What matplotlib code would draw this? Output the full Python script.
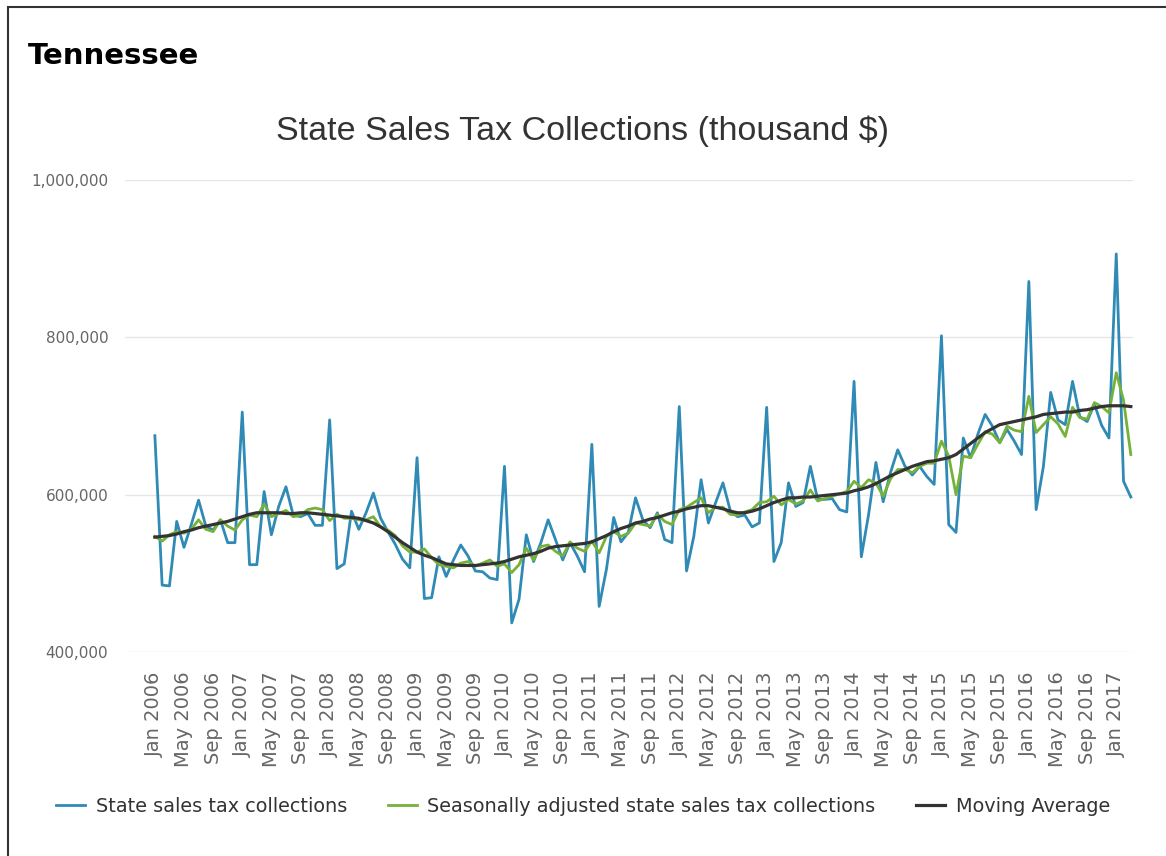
import matplotlib.pyplot as plt
import numpy as np
from matplotlib.patches import Rectangle
from matplotlib.ticker import FuncFormatter

plt.rcParams["font.family"] = "DejaVu Sans"

# ------------------------------------------------------------
# DATA (thousand $), monthly Jan 2006 .. Mar 2017
# ------------------------------------------------------------

month_names = ["Jan", "Feb", "Mar", "Apr", "May", "Jun",
               "Jul", "Aug", "Sep", "Oct", "Nov", "Dec"]
years = list(range(2006, 2018))
months = [f"{m} {y}" for y in years for m in month_names][:135]

collections = [
    675000, 485000, 484000, 566000, 533000, 562000, 593000, 560000, 555000, 568000, 539000, 539000,  # 2006
    705000, 511000, 511000, 604000, 549000, 585000, 610000, 574000, 572000, 576000, 561000, 561000,  # 2007
    695000, 506000, 512000, 579000, 556000, 577000, 602000, 570000, 553000, 537000, 518000, 507000,  # 2008
    647000, 468000, 469000, 521000, 496000, 517000, 536000, 522000, 503000, 502000, 494000, 492000,  # 2009
    636000, 437000, 467000, 549000, 515000, 539000, 568000, 543000, 517000, 539000, 522000, 502000,  # 2010
    664000, 458000, 505000, 571000, 540000, 552000, 596000, 568000, 558000, 577000, 543000, 539000,  # 2011
    712000, 503000, 547000, 619000, 564000, 590000, 615000, 580000, 572000, 574000, 559000, 564000,  # 2012
    711000, 515000, 539000, 615000, 585000, 590000, 636000, 594000, 594000, 595000, 581000, 578000,  # 2013
    744000, 521000, 575000, 641000, 591000, 628000, 657000, 636000, 625000, 636000, 623000, 613000,  # 2014
    802000, 562000, 552000, 672000, 647000, 677000, 702000, 687000, 666000, 683000, 668000, 651000,  # 2015
    871000, 581000, 636000, 730000, 695000, 689000, 744000, 699000, 693000, 715000, 688000, 672000,  # 2016
    906000, 617000, 597000,  # 2017
]

adjusted = [
    547000, 541000, 549000, 553000, 551000, 556000, 568000, 556000, 553000, 568000, 560000, 555000,  # 2006
    568000, 574000, 572000, 588000, 572000, 576000, 580000, 572000, 574000, 581000, 583000, 581000,  # 2007
    567000, 575000, 570000, 570000, 568000, 568000, 572000, 559000, 555000, 548000, 535000, 527000,  # 2008
    527000, 531000, 520000, 511000, 509000, 507000, 513000, 515000, 509000, 513000, 517000, 509000,  # 2009
    512000, 501000, 511000, 532000, 517000, 534000, 536000, 528000, 522000, 540000, 532000, 528000,  # 2010
    541000, 526000, 547000, 553000, 547000, 551000, 564000, 562000, 560000, 575000, 566000, 562000,  # 2011
    581000, 584000, 590000, 596000, 577000, 584000, 584000, 575000, 574000, 578000, 581000, 590000,  # 2012
    591000, 598000, 587000, 594000, 588000, 592000, 606000, 592000, 595000, 598000, 601000, 604000,  # 2013
    617000, 609000, 619000, 615000, 598000, 620000, 632000, 632000, 628000, 636000, 640000, 640000,  # 2014
    668000, 649000, 600000, 649000, 647000, 664000, 680000, 677000, 666000, 687000, 682000, 680000,  # 2015
    725000, 679000, 689000, 699000, 690000, 674000, 711000, 698000, 696000, 717000, 712000, 704000,  # 2016
    755000, 720000, 651000,  # 2017
]

moving_avg = [
    546000, 547000, 548000, 550000, 553000, 555000, 558000, 560000, 562000, 564000, 566000, 569000,  # 2006
    572000, 575000, 577000, 577000, 577000, 577000, 576000, 576000, 577000, 577000, 576000, 575000,  # 2007
    574000, 573000, 572000, 571000, 570000, 567000, 564000, 559000, 553000, 546000, 539000, 533000,  # 2008
    527000, 523000, 520000, 516000, 512000, 511000, 510000, 510000, 510000, 511000, 512000, 513000,  # 2009
    515000, 518000, 521000, 523000, 525000, 528000, 532000, 534000, 535000, 536000, 537000, 538000,  # 2010
    540000, 544000, 548000, 553000, 557000, 560000, 564000, 566000, 569000, 571000, 574000, 577000,  # 2011
    579000, 582000, 584000, 586000, 586000, 584000, 582000, 579000, 577000, 577000, 579000, 582000,  # 2012
    586000, 590000, 593000, 596000, 596000, 597000, 597000, 598000, 599000, 600000, 601000, 602000,  # 2013
    605000, 607000, 610000, 614000, 619000, 624000, 628000, 632000, 636000, 639000, 642000, 643000,  # 2014
    645000, 647000, 651000, 658000, 665000, 672000, 679000, 684000, 689000, 691000, 693000, 695000,  # 2015
    697000, 699000, 702000, 703000, 704000, 705000, 705000, 707000, 708000, 710000, 712000, 713000,  # 2016
    713000, 713000, 712000,  # 2017
]

yticks = [400000, 600000, 800000, 1000000]

# ------------------------------------------------------------
# STYLE
# ------------------------------------------------------------

BLUE = "#2f8ab6"
GREEN = "#76b13a"
DARK = "#333333"
GRAY = "#666666"

W, H = 1166, 856

fig = plt.figure(figsize=(W / 100, H / 100), dpi=100)

# outer frame
fig.patches.append(Rectangle((8 / W, -0.1), 1.2, 1.1 - 7 / H,
                             transform=fig.transFigure, fill=False,
                             edgecolor=DARK, lw=1.5))

ax = fig.add_axes([125 / W, 1 - 652 / H, (1133 - 125) / W, (652 - 180) / H])

x = np.arange(len(months))

ax.plot(x, collections, color=BLUE, lw=2.0, label="State sales tax collections")
ax.plot(x, adjusted, color=GREEN, lw=2.0,
        label="Seasonally adjusted state sales tax collections")
ax.plot(x, moving_avg, color=DARK, lw=2.3, label="Moving Average")

ax.set_xlim(-4.1, len(months) - 1 + 0.3)
ax.set_ylim(yticks[0], yticks[-1])

ax.set_yticks(yticks)
ax.yaxis.set_major_formatter(FuncFormatter(lambda v, p: f"{v:,.0f}"))
ax.set_xticks(x[::4])
ax.set_xticklabels(months[::4], rotation=90)

ax.yaxis.grid(True, color="#e6e6e6", lw=1)
ax.set_axisbelow(True)
for s in ax.spines.values():
    s.set_visible(False)

ax.tick_params(axis="y", length=0, pad=12, labelsize=11, labelcolor=GRAY)
ax.tick_params(axis="x", length=0, pad=14, labelsize=14, labelcolor=GRAY)

fig.text(28 / W, 1 - 64 / H, "Tennessee", fontsize=21, fontweight="bold",
         color="black", ha="left", va="baseline")
fig.text(0.5, 1 - 131 / H, "State Sales Tax Collections (thousand $)",
         fontsize=24.5, family="Liberation Sans", color=DARK,
         ha="center", va="center")

fig.legend(loc="center", bbox_to_anchor=(583 / W, 1 - 806 / H), ncol=3,
           frameon=False, fontsize=13.9, handlelength=1.5, handletextpad=0.55,
           columnspacing=2.1, labelcolor=DARK)

fig.savefig("out.png", dpi=100)
